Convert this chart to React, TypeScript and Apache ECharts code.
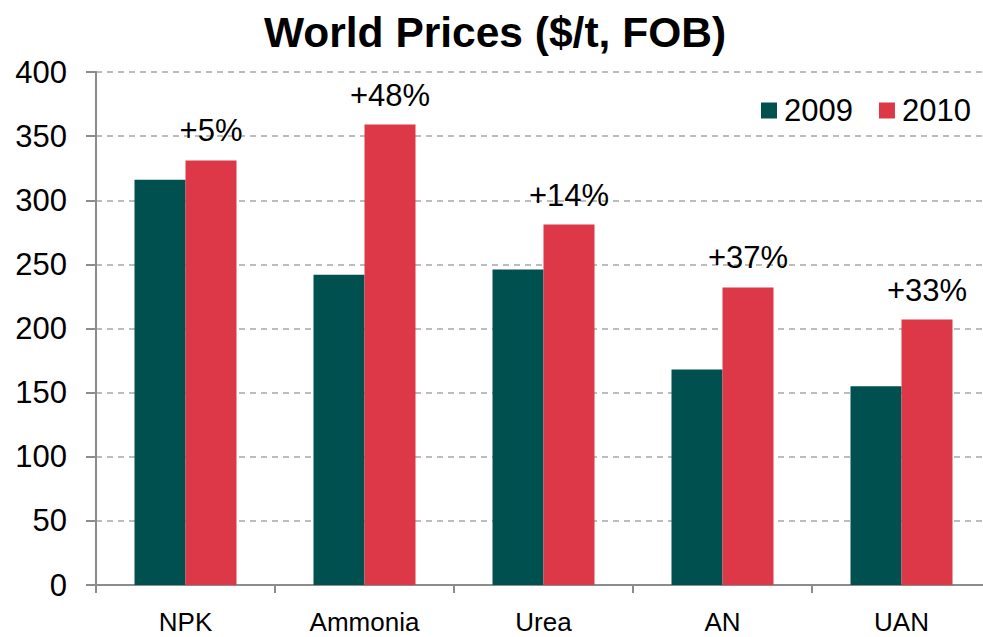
import React, { useEffect, useRef } from "react";
import * as echarts from "echarts";

const categories = ["NPK", "Ammonia", "Urea", "AN", "UAN"];
const values2009 = [316, 242, 246, 168, 155];
const values2010 = [331, 359, 281, 232, 207];
const changeLabels = ["+5%", "+48%", "+14%", "+37%", "+33%"];
const yTicks = { min: 0, max: 400, interval: 50 };

const FONT = "'Liberation Sans', Arial, sans-serif";
const CHART_W = 1000;

export default function App() {
  const ref = useRef<HTMLDivElement>(null);
  useEffect(() => {
    if (!ref.current) return;
    const chart = echarts.init(ref.current, undefined, { renderer: "svg" });
    chart.setOption({
      animation: false,
      backgroundColor: "#ffffff",
      textStyle: { fontFamily: FONT },
      title: {
        text: "World Prices ($/t, FOB)",
        left: 490,
        textAlign: "center",
        top: 6,
        textStyle: { fontFamily: FONT, fontSize: 42.5, fontWeight: "bold", color: "#000" },
      },
      legend: {
        left: 756,
        top: 90,
        itemWidth: 16,
        itemHeight: 16,
        itemGap: 26,
        icon: "rect",
        textStyle: { fontFamily: FONT, fontSize: 31, color: "#000", padding: [0, 0, 0, 2] },
        data: ["2009", "2010"],
      },
      grid: { left: 96, right: CHART_W - 991, top: 72, bottom: 52, containLabel: false },
      xAxis: {
        type: "category",
        data: categories,
        axisLine: { lineStyle: { color: "#8c8c8c", width: 2 } },
        axisTick: { show: true, length: 8, lineStyle: { color: "#8c8c8c", width: 2 } },
        axisLabel: { fontFamily: FONT, fontSize: 26, lineHeight: 26, color: "#000", margin: 24 },
      },
      yAxis: {
        type: "value",
        min: yTicks.min,
        max: yTicks.max,
        interval: yTicks.interval,
        axisLine: { show: true, lineStyle: { color: "#8c8c8c", width: 2 } },
        axisTick: { show: true, length: 10, lineStyle: { color: "#8c8c8c", width: 2 } },
        axisLabel: { fontFamily: FONT, fontSize: 31, color: "#000", margin: 29 },
        splitLine: { show: true, lineStyle: { color: "#a6a6a6", width: 1.5, type: [6, 5] } },
      },
      series: [
        {
          name: "2009",
          type: "bar",
          data: values2009,
          barWidth: 51,
          barGap: "0%",
          itemStyle: { color: "#00504f" },
        },
        {
          name: "2010",
          type: "bar",
          data: values2010,
          barWidth: 51,
          barGap: "0%",
          itemStyle: { color: "#dc3848" },
          label: {
            show: true,
            position: "top",
            distance: 14,
            fontFamily: FONT,
            fontSize: 31,
            color: "#000",
            formatter: (p: any) => changeLabels[p.dataIndex],
          },
        },
      ],
    });
    return () => chart.dispose();
  }, []);
  return (
    <div
      style={{
        position: "fixed",
        left: 0,
        top: 0,
        width: 983,
        height: 637,
        overflow: "hidden",
        background: "#fff",
      }}
    >
      <div ref={ref} style={{ width: CHART_W, height: 637 }} />
    </div>
  );
}
